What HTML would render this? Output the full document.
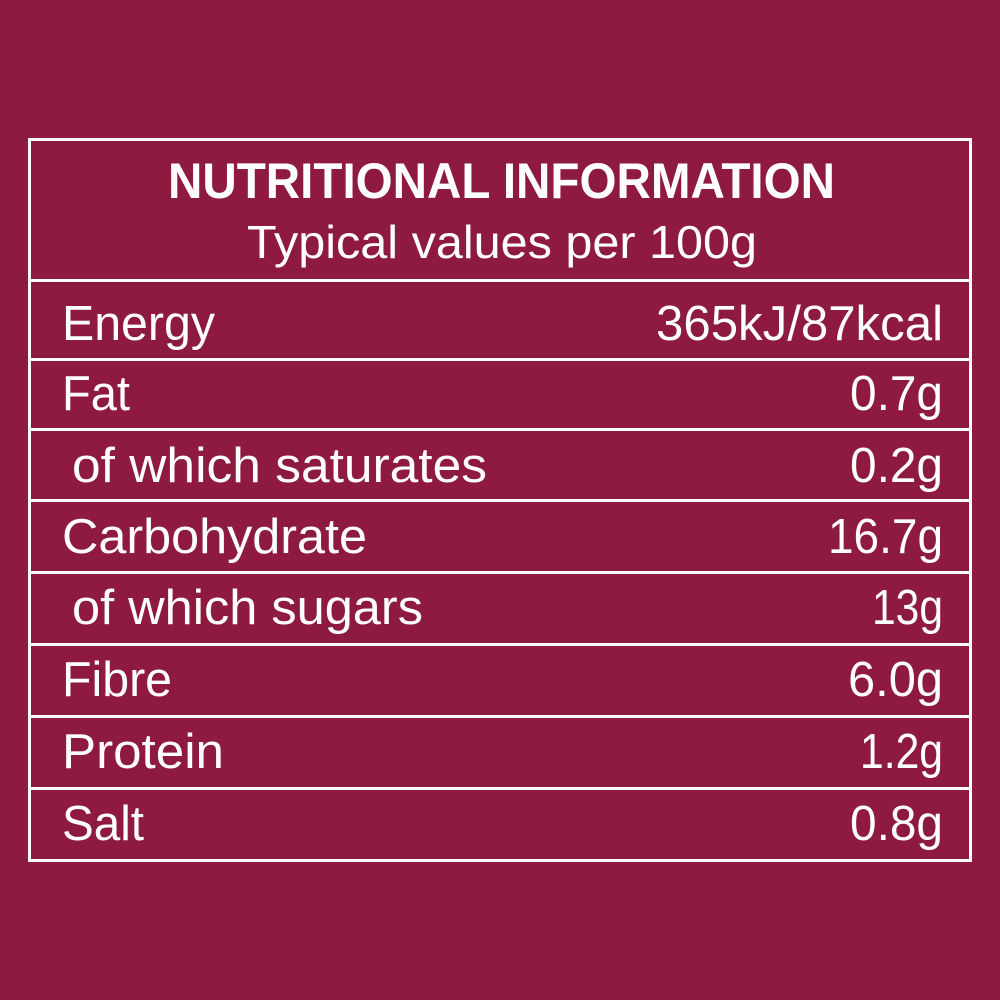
<!DOCTYPE html>
<html><head><meta charset="utf-8"><style>html,body{margin:0;padding:0;background:#8e1a3f;}svg{display:block}</style></head>
<body>
<svg width="1000" height="1000" viewBox="0 0 1000 1000" xmlns="http://www.w3.org/2000/svg">
<rect width="1000" height="1000" fill="#8e1a3f"/>
<g stroke="#fff" stroke-width="3" fill="none">
<rect x="29.5" y="139.5" width="941" height="721"/>
<line x1="29" y1="280.5" x2="971" y2="280.5"/>
<line x1="29" y1="359.5" x2="971" y2="359.5"/>
<line x1="29" y1="429.5" x2="971" y2="429.5"/>
<line x1="29" y1="500.5" x2="971" y2="500.5"/>
<line x1="29" y1="572.5" x2="971" y2="572.5"/>
<line x1="29" y1="644.5" x2="971" y2="644.5"/>
<line x1="29" y1="716.5" x2="971" y2="716.5"/>
<line x1="29" y1="788.5" x2="971" y2="788.5"/>
</g>
<g fill="#fff" font-family="Liberation Sans, sans-serif">
<text x="168" y="198" font-size="50" font-weight="bold" textLength="667" lengthAdjust="spacingAndGlyphs">NUTRITIONAL INFORMATION</text>
<text x="247" y="258" font-size="46" textLength="510" lengthAdjust="spacingAndGlyphs">Typical values per 100g</text>
<g font-size="49">
<text x="62" y="340" textLength="153" lengthAdjust="spacingAndGlyphs">Energy</text>
<text x="62" y="410" textLength="68" lengthAdjust="spacingAndGlyphs">Fat</text>
<text x="72" y="482" textLength="415" lengthAdjust="spacingAndGlyphs">of which saturates</text>
<text x="62" y="553" textLength="305" lengthAdjust="spacingAndGlyphs">Carbohydrate</text>
<text x="72" y="624" textLength="351" lengthAdjust="spacingAndGlyphs">of which sugars</text>
<text x="62" y="696" textLength="110" lengthAdjust="spacingAndGlyphs">Fibre</text>
<text x="62" y="768" textLength="162" lengthAdjust="spacingAndGlyphs">Protein</text>
<text x="62" y="840" textLength="82" lengthAdjust="spacingAndGlyphs">Salt</text>
<text x="656" y="340" textLength="287" lengthAdjust="spacingAndGlyphs">365kJ/87kcal</text>
<text x="850" y="410" textLength="93" lengthAdjust="spacingAndGlyphs">0.7g</text>
<text x="850" y="482" textLength="93" lengthAdjust="spacingAndGlyphs">0.2g</text>
<text x="828" y="553" textLength="115" lengthAdjust="spacingAndGlyphs">16.7g</text>
<text x="872" y="624" textLength="71" lengthAdjust="spacingAndGlyphs">13g</text>
<text x="848" y="696" textLength="95" lengthAdjust="spacingAndGlyphs">6.0g</text>
<text x="860" y="768" textLength="83" lengthAdjust="spacingAndGlyphs">1.2g</text>
<text x="850" y="840" textLength="93" lengthAdjust="spacingAndGlyphs">0.8g</text>
</g>
</g>
</svg>
</body></html>
